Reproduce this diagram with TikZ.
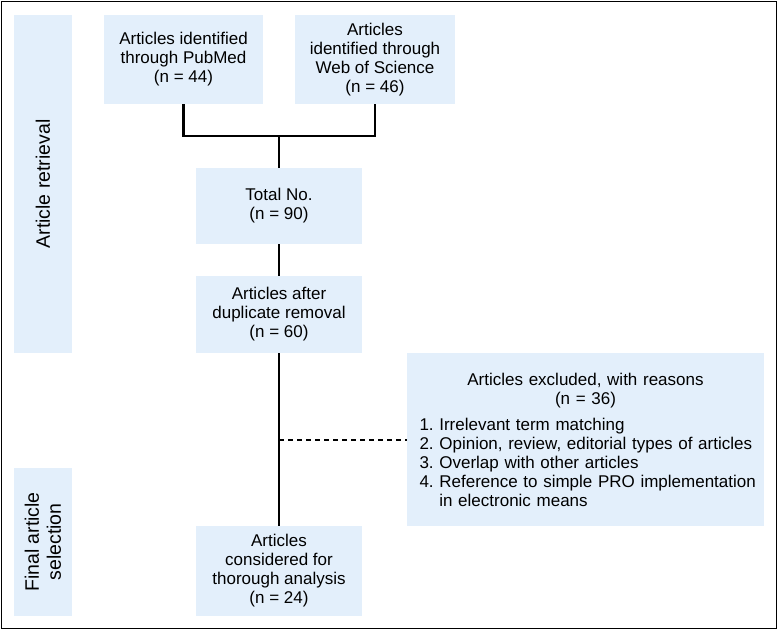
\documentclass[tikz,border=0pt]{standalone}
\usepackage{fontspec}
\setmainfont{Liberation Sans}
\usepackage{tikz}
\usetikzlibrary{positioning}
\definecolor{boxblue}{HTML}{E3EFFB}

\begin{document}
\begin{tikzpicture}[x=1pt, y=-1pt,
    box/.style = {rectangle, fill=boxblue, inner sep=0pt,
        align=center, font=\fontsize{17}{19}\selectfont\frenchspacing},
    sidebar/.style = {rectangle, fill=boxblue, inner sep=0pt,
        align=center, rotate=90, minimum height=58,
        font=\fontsize{19.5}{22}\selectfont},
    link/.style = {line width=2.3pt}]

\useasboundingbox (0,0) rectangle (778,630);

% Outer frame
\draw[line width=1pt] (1.5,1.5) rectangle (776.5,628.5);

% Phases
\node[sidebar, minimum width=338] (retrieval) at (43,184) {Article retrieval};
\node[sidebar, minimum width=148] (selection) at (43,542) {Final article\\selection};

% Sources
\node[box, minimum width=159, minimum height=89] (pubmed) at (183.5,59.5)
    {Articles identified\\through PubMed\\(n = 44)};
\node[box, minimum width=160, minimum height=89] (wos) at (375,59.5)
    {Articles\\identified through\\Web of Science\\(n = 46)};

% Main flow
\node[box, minimum width=166, minimum height=76] (total) at (279,206)
    {Total No.\\(n = 90)};
\node[box, minimum width=166, minimum height=77] (dedup) at (279,314.5)
    {Articles after\\duplicate removal\\(n = 60)};
\node[box, minimum width=166, minimum height=90] (final) at (279,571)
    {Articles\\considered for\\thorough analysis\\(n = 24)};

% Exclusions
\node[box, minimum width=357, minimum height=173, text width=332,
    align=left] (excluded) at (585.5,439.5)
    {{\centering Articles excluded, with reasons\\(n = 36)\par}\vspace{7pt}
    \mbox{1. Irrelevant term matching}\\
    \mbox{2. Opinion, review, editorial types of articles}\\
    \mbox{3. Overlap with other articles}\\
    \mbox{4. Reference to simple PRO implementation}\\
    \mbox{\phantom{4. }in electronic means}};

% Connectors
\coordinate (join) at (279,136);
\coordinate (branch) at (dedup |- excluded.west);
\draw[link] (pubmed.south) |- (join) -| (wos.south);
\draw[link] (join) -- (total.north);
\draw[link] (total.south) -- (dedup.north);
\draw[link] (dedup.south) -- (final.north);
\draw[line width=2pt, dash pattern=on 5pt off 4pt] (branch) -- (excluded.west);
\end{tikzpicture}
\end{document}
